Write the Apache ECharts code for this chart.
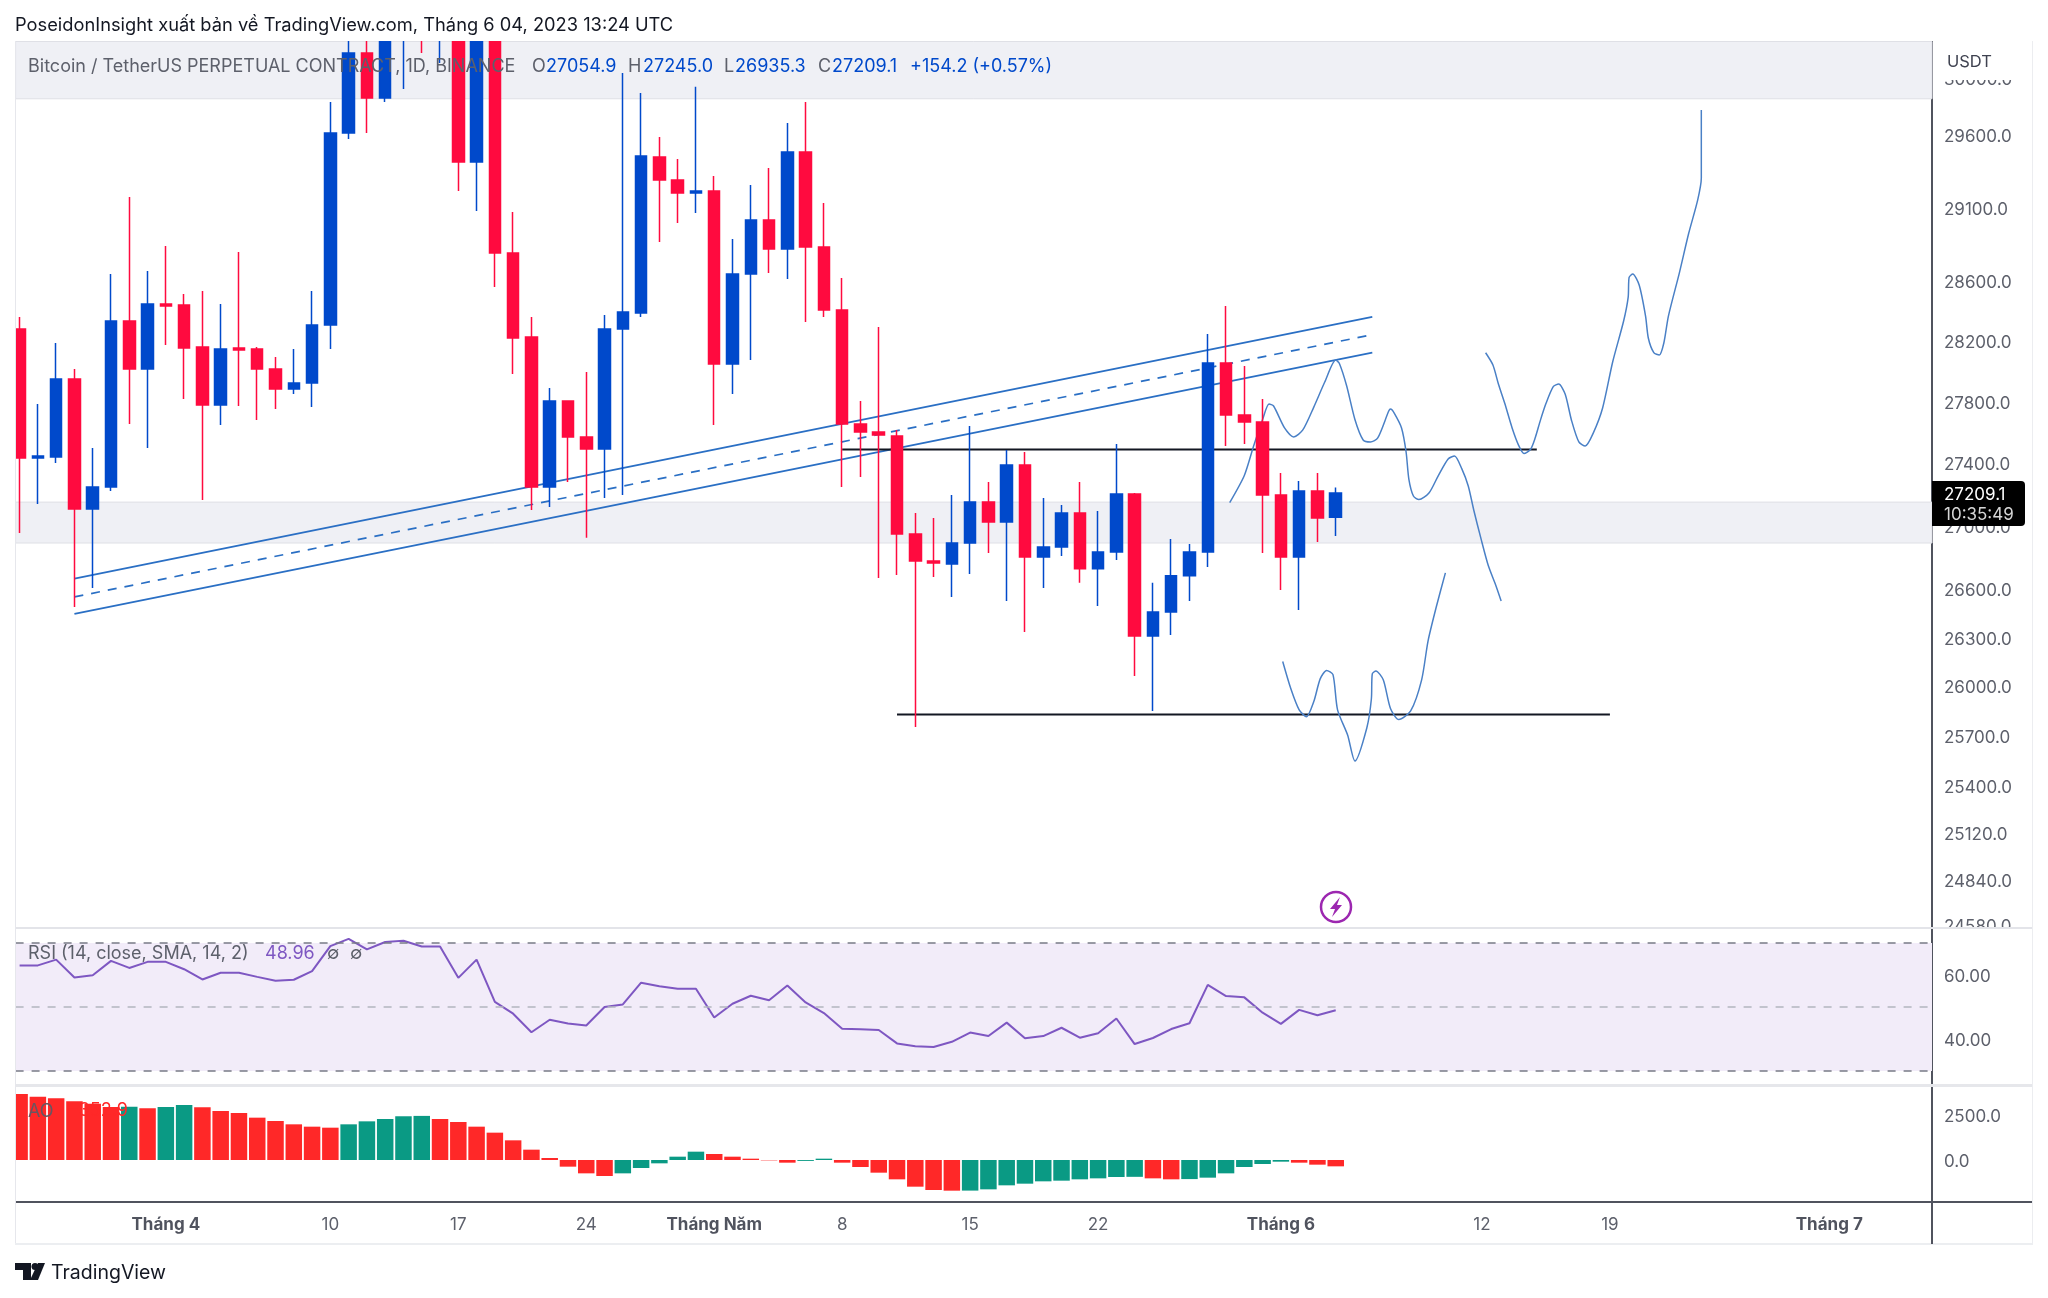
<!DOCTYPE html>
<html>
<head>
<meta charset="utf-8">
<title>BTCUSDT</title>
<style>
html,body{margin:0;padding:0;background:#fff;}
#main{width:2048px;height:1298px;}
</style>
<script src="https://cdn.jsdelivr.net/npm/echarts@6/dist/echarts.min.js"></script>
</head>
<body>
<div id="main"></div>
<script>
// daily candles, 24 Mar .. 4 Jun 2023 (values above the visible pane are guesses)
var opens = [28280,27434,27441,27949,27107,27248,28333,28015,28446,28440,28160,27779,28153,28147,28015,27883,27923,28306,29615,30177,29859,30350,30900,30450,30500,29413,30350,28790,28227,27248,27805,27570,27492,28280,28387,29448,29289,29199,29213,28048,28648,29015,28817,29482,28830,28406,27655,27603,27577,26948,26778,26759,26891,27151,27025,27389,26803,26866,27082,26728,26834,27203,26309,26458,26684,26834,28054,27713,27668,27196,26803,27222,27054.9];
var closes = [27434,27447,27949,27107,27248,28333,28015,28446,28433,28153,27779,28147,28140,28015,27883,27923,28306,29615,30177,29859,30400,30450,30450,30500,29413,30350,28790,28220,27248,27805,27570,27492,28280,28393,29455,29289,29199,29213,28048,28648,29015,28817,29482,28830,28406,27655,27603,27584,26948,26778,26765,26891,27151,27025,27389,26803,26866,27082,26728,26834,27203,26309,26458,26684,26834,28054,27713,27668,27196,26803,27222,27050,27209.1];
var lows = [26955,27139,27402,26489,26608,27222,27655,27499,28173,27818,27164,27648,27772,27681,27752,27850,27765,28147,29573,29615,29831,29922,30177,30106,29213,29076,28561,27982,27101,27120,27280,26924,27177,27196,28360,28865,28994,29062,27648,27850,28074,28655,28615,28327,28360,27248,27312,26671,26690,25752,26677,26552,26696,26828,26527,26334,26608,26809,26640,26496,26784,26063,25849,26315,26527,26740,27512,27525,26828,26596,26471,26897,26935.3];
var highs = [28360,27785,28187,28015,27499,28648,29172,28668,28837,28513,28534,28446,28796,28160,28094,28147,28534,29831,30400,30350,30500,30600,31000,30700,30700,30550,30500,29069,28360,27890,27810,27995,28373,30035,29894,29587,29434,29938,29317,28885,29255,29372,29684,29831,29131,28621,27805,28293,27616,27082,27050,27196,27642,27280,27486,27473,27177,27132,27280,27094,27525,27210,26640,26917,26885,28247,28433,28035,27818,27338,27286,27338,27245];

var rsiValues = [63.0,63.0,64.8,59.2,59.9,64.4,62.2,64.1,64.1,61.8,58.6,60.7,60.7,59.4,58.2,58.5,61.2,69.0,71.3,68.0,70.3,70.7,68.9,68.9,59.1,64.8,51.6,47.9,42.1,46.0,44.8,44.2,50.0,50.8,57.6,56.5,55.7,55.7,46.7,51.0,53.5,52.1,56.7,51.4,48.1,43.2,43.0,42.8,38.6,37.7,37.5,39.1,42.0,40.9,45.1,40.2,40.9,43.5,40.4,41.8,46.4,38.4,40.3,43.1,44.9,56.9,53.4,53.0,48.2,44.7,49.1,47.4,48.96];
var aoValues = [3667,3519,3426,3260,3130,2940,2963,2870,2945,3056,2926,2722,2611,2352,2167,1982,1852,1796,1982,2148,2278,2430,2450,2278,2111,1852,1519,1093,574,111,-370,-741,-889,-741,-444,-185,185,463,333,185,74,-20,-148,-50,74,-148,-389,-704,-1074,-1482,-1667,-1704,-1700,-1630,-1407,-1315,-1185,-1148,-1074,-1019,-944,-935,-1019,-1074,-1060,-981,-741,-389,-222,-93,-148,-259,-352];

// drawings: [day index, price]
var channelTop = [[3.0,26667],[74.0,28361]];
var channelMid = [[3.0,26552],[74.0,28242]];
var channelBottom = [[3.0,26446],[74.0,28123]];
var resistance = [[45,27490],[83,27490]];
var support = [[48,25828],[87,25828]];
var sketchA = [[66.2,27148],[67.0,27322],[67.5,27509],[68.0,27684],[68.35,27785],[68.6,27772],[69.2,27629],[69.7,27570],[70.2,27616],[70.8,27765],[71.4,27929],[72.0,28074],[72.2,28051],[72.6,27903],[73.05,27684],[73.5,27551],[73.9,27538],[74.3,27564],[74.9,27739],[75.0,27752],[75.2,27726],[75.6,27629],[75.85,27473],[76.0,27299],[76.25,27190],[76.55,27167],[77.1,27209],[77.6,27318],[78.15,27428],[78.5,27447],[78.9,27364],[79.25,27254],[79.55,27101],[79.95,26917],[80.35,26747],[80.75,26627],[81.05,26527]];
var sketchB = [[80.2,28122],[80.6,28041],[80.9,27916],[81.25,27788],[81.65,27629],[82.0,27518],[82.3,27463],[82.65,27489],[82.9,27560],[83.2,27680],[83.5,27788],[83.9,27899],[84.2,27916],[84.55,27850],[84.9,27678],[85.3,27538],[85.65,27512],[86.1,27599],[86.6,27759],[87.15,28061],[87.75,28333],[88.0,28493],[88.05,28625],[88.25,28648],[88.6,28574],[88.95,28366],[89.1,28220],[89.4,28123],[89.7,28107],[89.95,28187],[90.2,28366],[90.8,28656],[91.3,28919],[91.8,29151],[92.0,29303],[92.0,29775]];
var sketchC = [[69.1,26152],[69.55,25983],[70.0,25856],[70.4,25814],[70.8,25906],[71.15,26045],[71.5,26097],[71.85,26071],[72.1,25856],[72.65,25703],[73.05,25546],[73.7,25746],[73.95,25922],[74.0,26075],[74.2,26094],[74.6,26039],[75.0,25862],[75.45,25797],[76.1,25849],[76.7,26039],[77.05,26278],[77.5,26489],[78.0,26703]];

// axis ticks
var priceTicks = [30000,29600,29100,28600,28200,27800,27400,27000,26600,26300,26000,25700,25400,25120,24840,24580];
var rsiTicks = [60,40];
var aoTicks = [2500,0];
var timeTicks = [8,17,24,31,38,45,52,59,69,80,87,99];
var timeTickLabels = ['Tháng 4','10','17','24','Tháng Năm','8','15','22','Tháng 6','12','19','Tháng 7'];

var highlightBand = [27151,26891];
var headerBand = [30259,29854];

var FONT = 'Inter, Roboto, sans-serif';
var UP = '#0049cb', DOWN = '#ff0a3f';
var xMin = -0.219, xMax = 104.62;

function makeXAxis(gridIndex, showLabels){
    return {
        type:'value', gridIndex:gridIndex, min:xMin, max:xMax,
        splitLine:{show:false}, axisTick:{show:false},
        axisLine:{show:showLabels, onZero:false, lineStyle:{color:'#50535e', width:2}},
        axisLabel: showLabels ? {
            show:true, customValues:timeTicks, margin:14,
            formatter:function(v){
                var t = timeTickLabels[timeTicks.indexOf(v)];
                return t.indexOf('Tháng') === 0 ? '{b|' + t + '}' : t;
            },
            color:'#5d606b', fontFamily:FONT, fontSize:17,
            rich:{b:{fontWeight:'bold', color:'#50535e', fontFamily:FONT, fontSize:17}}
        } : {show:false}
    };
}

function makeYAxis(gridIndex, type, min, max, ticks, digits){
    return {
        type:type, gridIndex:gridIndex, position:'right', min:min, max:max, scale:true,
        splitLine:{show:false}, minorSplitLine:{show:false}, axisTick:{show:false}, minorTick:{show:false},
        axisLine:{show:true, onZero:false, lineStyle:{color:'#50535e', width:2}},
        axisLabel:{
            show:true, customValues:ticks, margin:12,
            showMinLabel:true, showMaxLabel:true, hideOverlap:false,
            formatter:function(v){ return '{v|' + Number(v).toFixed(digits) + '}'; },
            // top padding nudges the digits down to the reference baseline
            rich:{v:{color:'#5d606b', fontFamily:FONT, fontSize:17, padding:[4,0,0,0]}}
        }
    };
}

function drawing(name, points, color, width, dash){
    return {
        name:name, type:'line', xAxisIndex:0, yAxisIndex:0, data:points, symbol:'none', z:3,
        smooth: width < 1.6 ? 0.25 : false,
        lineStyle:{color:color, width:width, type:dash || 'solid'}
    };
}

function txt(text, x, y, color, font){
    return {type:'text', z:100, silent:true, style:{x:x, y:y, text:text, fill:color, font:font, verticalAlign:'middle', align:'left'}};
}

function rect(x, y, w, h, fill, r, z){
    return {type:'rect', z:z || 90, silent:true, shape:{x:x, y:y, width:w, height:h, r:r || 0}, style:{fill:fill}};
}

var LEG = '18px ' + FONT;
var BLUE_TXT = '#0049cb';
var graphics = [
    // candles only drop out when fully outside the grid, so mask the page margins
    rect(0, 0, 2048, 41, '#ffffff', 0, 80),
    rect(0, 41, 15, 1210, '#ffffff', 0, 80),
    // frame and pane separators
    rect(15, 41, 1, 1203, '#e6e7ec'),
    rect(2032, 41, 1, 1203, '#ecedf0'),
    rect(15, 1243, 2018, 2, '#eceef1'),
    rect(16, 927, 2016, 2, '#e3e4e9'),
    rect(16, 1084, 2016, 3, '#e6e7eb'),
    rect(1931, 1202, 2, 42, '#50535e'),
    rect(1932, 1201, 100, 2, '#50535e'),
    // covers for the clipped scale labels
    rect(1933, 41, 98, 39, '#ffffff'),
    rect(1933, 929, 98, 6, '#ffffff'),
    txt('USDT', 1947, 62, '#3f4250', '16.5px ' + FONT),
    // last price tag
    rect(1932, 481, 93, 45, '#000000', [0,4,4,0], 95),
    txt('27209.1', 1944, 495, '#ffffff', '17px ' + FONT),
    txt('10:35:49', 1944, 515, '#d6d6d6', '17px ' + FONT),
    // title
    txt('PoseidonInsight xuất bản về TradingView.com, Tháng 6 04, 2023 13:24 UTC', 15, 25.5, '#131722', '18.3px ' + FONT),
    // legends
    txt('Bitcoin / TetherUS PERPETUAL CONTRACT, 1D, BINANCE', 28, 67, '#5d606b', LEG),
    txt('O', 532, 67, '#5d606b', LEG), txt('27054.9', 546, 67, BLUE_TXT, LEG),
    txt('H', 628, 67, '#5d606b', LEG), txt('27245.0', 643, 67, BLUE_TXT, LEG),
    txt('L', 724, 67, '#5d606b', LEG), txt('26935.3', 735, 67, BLUE_TXT, LEG),
    txt('C', 818, 67, '#5d606b', LEG), txt('27209.1', 832, 67, BLUE_TXT, LEG),
    txt('+154.2 (+0.57%)', 910, 67, BLUE_TXT, LEG),
    txt('RSI (14, close, SMA, 14, 2)', 28, 954, '#5d606b', LEG),
    txt('48.96', 265, 954, '#7e57c2', LEG),
    txt('∅', 327, 954, '#5d606b', LEG),
    txt('∅', 350, 954, '#5d606b', LEG),
    txt('AO', 28, 1112, '#6a5560', LEG),
    txt('−352.9', 67, 1111, '#ff2828', LEG),
    // flash icon
    {type:'circle', z:90, silent:true, shape:{cx:1336, cy:907, r:15}, style:{fill:'#ffffff', stroke:'#9c27b0', lineWidth:2.5}},
    {type:'polygon', z:91, silent:true, shape:{points:[[1340,897],[1330,909],[1335,909],[1332,917],[1342,905],[1337,905]]}, style:{fill:'#9c27b0'}},
    // logo
    {type:'polygon', z:91, silent:true, shape:{points:[[15,1263],[31,1263],[31,1280],[23,1280],[23,1270],[15,1270]]}, style:{fill:'#131722'}},
    {type:'circle', z:91, silent:true, shape:{cx:35, cy:1266.5, r:3.5}, style:{fill:'#131722'}},
    {type:'polygon', z:91, silent:true, shape:{points:[[38,1263],[45,1263],[38,1280],[30,1280]]}, style:{fill:'#131722'}},
    txt('TradingView', 51, 1273, '#131722', '19.5px ' + FONT)
];

var candleData = opens.map(function(o, i){ return [i, o, closes[i], lows[i], highs[i]]; });
var rsiData = rsiValues.map(function(v, i){ return [i, v]; });
var aoData = aoValues.map(function(v, i){
    var rising = i > 0 && v >= aoValues[i - 1];
    return {value:[i, v], itemStyle:{color: rising ? '#0a9a84' : '#ff2828'}};
});

var chartDom = document.getElementById('main');
var myChart = echarts.init(chartDom);
var option = {
    animation:false,
    backgroundColor:'#ffffff',
    textStyle:{fontFamily:FONT},
    grid:[
        {left:15.6, top:41.5, width:1916.4, height:885.5, containLabel:false},
        {left:15.6, top:927, width:1916.4, height:158},
        {left:15.6, top:1086, width:1916.4, height:116}
    ],
    xAxis:[makeXAxis(0,false), makeXAxis(1,false), makeXAxis(2,true)],
    yAxis:[
        makeYAxis(0, 'log', 24568, 30259, priceTicks, 1),
        makeYAxis(1, 'value', 25.6, 75, rsiTicks, 2),
        makeYAxis(2, 'value', -2333, 4111, aoTicks, 1)
    ],
    graphic:graphics,
    series:[
        {
            name:'bands', type:'line', xAxisIndex:0, yAxisIndex:0, data:[], z:1,
            markArea:{
                silent:true,
                itemStyle:{color:'#eff0f5', borderColor:'#dfe0e6', borderWidth:1},
                data:[
                    [{xAxis:xMin, yAxis:highlightBand[0]}, {xAxis:xMax, yAxis:highlightBand[1]}],
                    [{xAxis:xMin, yAxis:headerBand[0]}, {xAxis:xMax, yAxis:headerBand[1]}]
                ]
            }
        },
        drawing('channelTop', channelTop, '#2a6fc4', 1.7),
        drawing('channelMid', channelMid, '#2a6fc4', 1.7, [9,8]),
        drawing('channelBottom', channelBottom, '#2a6fc4', 1.7),
        drawing('resistance', resistance, '#131722', 2),
        drawing('support', support, '#131722', 2),
        drawing('sketchA', sketchA, '#4a80c6', 1.5),
        drawing('sketchB', sketchB, '#4a80c6', 1.5),
        drawing('sketchC', sketchC, '#4a80c6', 1.5),
        {
            name:'BTCUSDT', type:'candlestick', xAxisIndex:0, yAxisIndex:0, data:candleData, barWidth:12, z:6,
            itemStyle:{color:UP, color0:DOWN, borderColor:UP, borderColor0:DOWN, borderWidth:1.5}
        },
        {
            name:'RSI', type:'line', xAxisIndex:1, yAxisIndex:1, data:rsiData, symbol:'none', z:4,
            lineStyle:{color:'#7e57c2', width:2},
            markArea:{silent:true, itemStyle:{color:'#f2ecf9'}, data:[[{yAxis:70}, {yAxis:30}]]},
            markLine:{
                silent:true, symbol:'none', label:{show:false},
                data:[
                    {yAxis:70, lineStyle:{color:'#787b86', type:[8,8], width:1.5}},
                    {yAxis:50, lineStyle:{color:'#b2b5be', type:[8,8], width:1.5}},
                    {yAxis:30, lineStyle:{color:'#787b86', type:[8,8], width:1.5}}
                ]
            }
        },
        {name:'AO', type:'bar', xAxisIndex:2, yAxisIndex:2, data:aoData, barWidth:16.5, z:3}
    ]
};
option && myChart.setOption(option);
</script>
</body>
</html>
